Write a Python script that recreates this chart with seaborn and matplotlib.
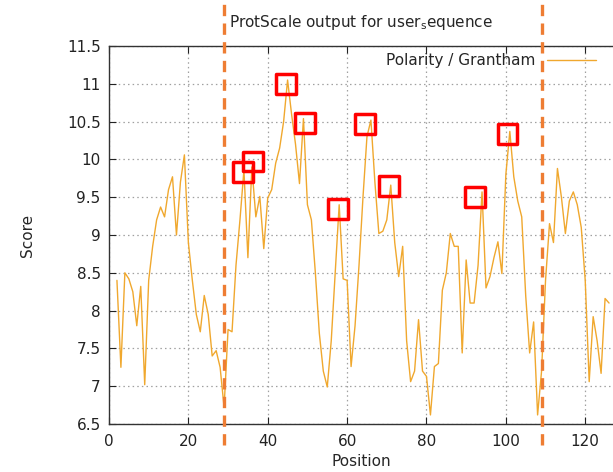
import numpy as np
import pandas as pd
import matplotlib
matplotlib.use("Agg")
import matplotlib.pyplot as plt
import seaborn as sns

# ---- data ----
positions = list(range(2, 127))
scores = [8.40, 7.25, 8.50, 8.42, 8.25, 7.80, 8.32, 7.02, 8.40, 8.85,
          9.20, 9.37, 9.24, 9.60, 9.77, 9.00, 9.70, 10.06, 8.90, 8.40,
          7.95, 7.72, 8.20, 7.95, 7.40, 7.47, 7.25, 6.72, 7.75, 7.72,
          8.60, 9.20, 9.86, 8.70, 9.90, 9.24, 9.51, 8.82, 9.49, 9.60,
          9.95, 10.15, 10.50, 11.05, 10.60, 10.20, 9.68, 10.54, 9.40, 9.20,
          8.50, 7.70, 7.20, 6.99, 7.60, 8.50, 9.40, 8.42, 8.40, 7.26,
          7.80, 8.60, 9.50, 10.30, 10.52, 9.70, 9.02, 9.05, 9.20, 9.66,
          8.90, 8.45, 8.85, 7.60, 7.06, 7.20, 7.88, 7.20, 7.13, 6.62,
          7.26, 7.30, 8.27, 8.50, 9.02, 8.85, 8.85, 7.44, 8.67, 8.10,
          8.10, 8.60, 9.57, 8.30, 8.45, 8.70, 8.91, 8.49, 9.80, 10.37,
          9.77, 9.45, 9.24, 8.20, 7.44, 7.85, 6.62, 7.20, 8.40, 9.15,
          8.90, 9.88, 9.50, 9.02, 9.45, 9.57, 9.40, 9.10, 8.40, 7.06,
          7.92, 7.60, 7.17, 8.16, 8.10]
highlight_x = [33.7, 36.3, 44.6, 49.4, 57.7, 64.5, 70.6, 92.3, 100.4]
highlight_y = [9.83, 9.97, 11.00, 10.48, 9.34, 10.47, 9.65, 9.50, 10.34]
cutoffs = [29, 109]
x_ticks = [0, 20, 40, 60, 80, 100, 120]
y_ticks = [6.5, 7, 7.5, 8, 8.5, 9, 9.5, 10, 10.5, 11, 11.5]
y_tick_labels = ["6.5", "7", "7.5", "8", "8.5", "9", "9.5", "10", "10.5", "11", "11.5"]

df = pd.DataFrame({"Position": positions, "Score": scores})
hl = pd.DataFrame({"Position": highlight_x, "Score": highlight_y})

sns.set_style("white")
plt.rcParams["font.family"] = ["DejaVu Sans"]

fig = plt.figure(figsize=(6.13, 4.72), dpi=100)
ax = fig.add_axes([109 / 613, 48 / 472, 504 / 613, 378 / 472])

sns.lineplot(data=df, x="Position", y="Score", ax=ax, color="#f0a82e",
             linewidth=1.0, label="Polarity / Grantham")
sns.scatterplot(data=hl, x="Position", y="Score", ax=ax, marker="s",
                s=200, facecolor="none", edgecolor="#ff0000",
                linewidth=2.5, legend=False, zorder=5)

for c in cutoffs:
    ax.axvline(c, ymin=-0.056, ymax=1.13, color="#ee7d33", linewidth=2.4,
               dashes=(3.4, 2.2), clip_on=False, zorder=6)

ax.set_xlim(0, 127)
ax.set_ylim(6.5, 11.5)
ax.set_xticks(x_ticks)
ax.set_yticks(y_ticks)
ax.set_yticklabels(y_tick_labels)
ax.tick_params(axis="both", which="both", direction="in", length=5,
               labelsize=11, colors="#222222", top=True, right=False,
               bottom=True, left=True)
ax.tick_params(axis="x", pad=7)
ax.tick_params(axis="y", pad=6)
ax.grid(True, color="#a0a0a0", linestyle=(0, (1.2, 2.5)), linewidth=0.9)
for s in ["left", "bottom", "top"]:
    ax.spines[s].set_color("#333333")
    ax.spines[s].set_linewidth(1.0)
ax.spines["right"].set_visible(False)

ax.set_xlabel("Position", fontsize=11, labelpad=4)
ax.set_ylabel("Score", fontsize=11, labelpad=23)
ax.set_title(r"ProtScale output for user$_{\mathregular{s}}$equence",
             fontsize=11, pad=14)

leg = ax.legend(loc="upper right", bbox_to_anchor=(0.985, 1.005), frameon=False,
                markerfirst=False, handlelength=3.2, fontsize=11,
                borderaxespad=0.2)

fig.savefig("out.png", dpi=100)
